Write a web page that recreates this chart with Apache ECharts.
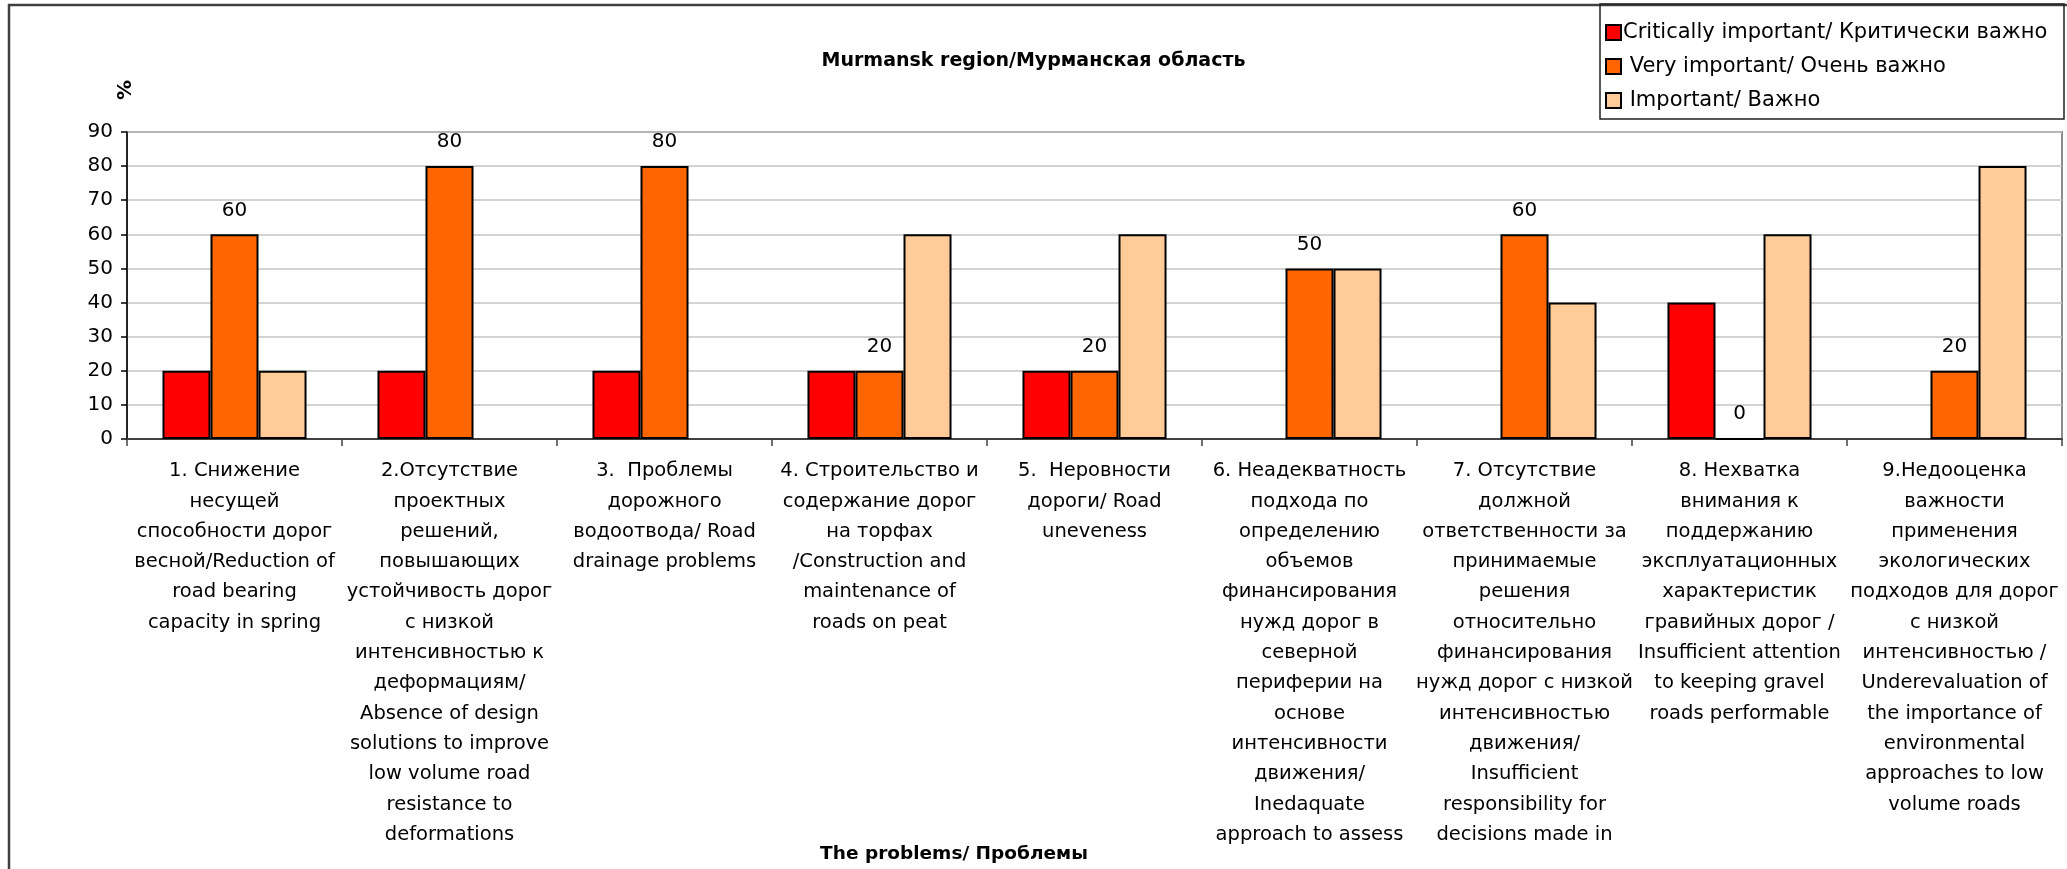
<!DOCTYPE html>
<html>
<head>
<meta charset="utf-8">
<script src="https://cdn.jsdelivr.net/npm/echarts@6/dist/echarts.min.js"></script>
<style>
  html, body { margin: 0; padding: 0; background: #fff; }
  #chart { width: 2067px; height: 869px; }
</style>
</head>
<body>
<div id="chart"></div>
<script>
// Problem categories (bilingual, with the line breaks used in the axis labels)
const categories = [
  '1. Снижение\nнесущей\nспособности дорог\nвесной/Reduction of\nroad bearing\ncapacity in spring',
  '2.Отсутствие\nпроектных\nрешений,\nповышающих\nустойчивость дорог\nс низкой\nинтенсивностью к\nдеформациям/\nAbsence of design\nsolutions to improve\nlow volume road\nresistance to\ndeformations',
  '3.  Проблемы\nдорожного\nводоотвода/ Road\ndrainage problems',
  '4. Строительство и\nсодержание дорог\nна торфах\n/Construction and\nmaintenance of\nroads on peat',
  '5.  Неровности\nдороги/ Road\nuneveness',
  '6. Неадекватность\nподхода по\nопределению\nобъемов\nфинансирования\nнужд дорог в\nсеверной\nпериферии на\nоснове\nинтенсивности\nдвижения/\nInedaquate\napproach to assess',
  '7. Отсутствие\nдолжной\nответственности за\nпринимаемые\nрешения\nотносительно\nфинансирования\nнужд дорог с низкой\nинтенсивностью\nдвижения/\nInsufficient\nresponsibility for\ndecisions made in',
  '8. Нехватка\nвнимания к\nподдержанию\nэксплуатационных\nхарактеристик\nгравийных дорог /\nInsufficient attention\nto keeping gravel\nroads performable',
  '9.Недооценка\nважности\nприменения\nэкологических\nподходов для дорог\nс низкой\nинтенсивностью /\nUnderevaluation of\nthe importance of\nenvironmental\napproaches to low\nvolume roads'
];

// Share of respondents, %
const criticallyImportant = [20, 20, 20, 20, 20, null, null, 40, null];
const veryImportant       = [60, 80, 80, 20, 20, 50, 60, 0, 20];
const important           = [20, null, null, 60, 60, 50, 40, 60, 80];

const seriesNames = [
  'Critically important/ Критически важно',
  ' Very important/ Очень важно',
  ' Important/ Важно'
];

const yTicks = { min: 0, max: 90, interval: 10 };

const FONT = 'DejaVu Sans';
const chart = echarts.init(document.getElementById('chart'), null, { renderer: 'canvas' });

const barBorder = { borderColor: '#000', borderWidth: 2 };

chart.setOption({
  backgroundColor: '#fff',
  animation: false,
  textStyle: { fontFamily: FONT, color: '#000' },
  title: {
    text: 'Murmansk region/Мурманская область',
    left: 'center',
    top: 47,
    textStyle: { fontFamily: FONT, fontSize: 19, fontWeight: 'bold', color: '#000' }
  },
  legend: {
    orient: 'vertical',
    left: 1600,
    top: 17,
    itemWidth: 15,
    itemHeight: 15,
    itemGap: 13,
    icon: 'rect',
    itemStyle: { borderColor: '#000', borderWidth: 2 },
    textStyle: { fontFamily: FONT, fontSize: 21, color: '#000', padding: [0, 0, 0, -3] },
    data: seriesNames
  },
  grid: {
    left: 127, right: 5, top: 132, bottom: 430,
    show: true, borderColor: '#8c8c8c', borderWidth: 2,
    containLabel: false
  },
  xAxis: {
    type: 'category',
    data: categories,
    boundaryGap: true,
    axisLine: { lineStyle: { color: '#404040', width: 2 } },
    axisTick: { show: true, length: 7, lineStyle: { color: '#404040', width: 1.5 } },
    axisLabel: {
      interval: 0, margin: 17, fontFamily: FONT, fontSize: 19.5, lineHeight: 30.3,
      color: '#000', align: 'center'
    }
  },
  yAxis: {
    type: 'value',
    min: yTicks.min, max: yTicks.max, interval: yTicks.interval,
    axisLine: { show: true, lineStyle: { color: '#000', width: 1.5 } },
    axisTick: { show: true, length: 6, lineStyle: { color: '#000', width: 1.5 } },
    axisLabel: { margin: 14, fontFamily: FONT, fontSize: 20, color: '#000' },
    splitLine: { lineStyle: { color: '#c4c4c4', width: 1.5 } }
  },
  series: [
    {
      name: seriesNames[0], type: 'bar', data: criticallyImportant,
      barGap: '0%', barCategoryGap: '33%',
      itemStyle: Object.assign({ color: '#ff0000' }, barBorder)
    },
    {
      name: seriesNames[1], type: 'bar', data: veryImportant,
      barGap: '0%', barCategoryGap: '33%',
      itemStyle: Object.assign({ color: '#ff6600' }, barBorder),
      label: { show: true, position: 'top', distance: 14, fontFamily: FONT, fontSize: 20, color: '#000' }
    },
    {
      name: seriesNames[2], type: 'bar', data: important,
      barGap: '0%', barCategoryGap: '33%',
      itemStyle: Object.assign({ color: '#ffcc99' }, barBorder)
    }
  ],
  graphic: [
    // outer chart frame
    { type: 'rect', z: 100, silent: true,
      shape: { x: 9, y: 5, width: 2200, height: 1000 },
      style: { fill: null, stroke: '#404040', lineWidth: 2.5 } },
    // legend frame
    { type: 'rect', z: 100, silent: true,
      shape: { x: 1600, y: 4, width: 464, height: 115 },
      style: { fill: null, stroke: '#222', lineWidth: 1.5 } },
    // value-axis title
    { type: 'text', x: 126, y: 90, rotation: Math.PI / 2, z: 100,
      style: { text: '%', x: 0, y: 0, align: 'center', verticalAlign: 'middle',
               font: 'bold 20px "DejaVu Sans"', fill: '#000' } },
    // category-axis title
    { type: 'text', x: 954, y: 854, z: 100,
      style: { text: 'The problems/ Проблемы', align: 'center', verticalAlign: 'middle',
               font: 'bold 18.5px "DejaVu Sans"', fill: '#000' } }
  ]
});
</script>
</body>
</html>
